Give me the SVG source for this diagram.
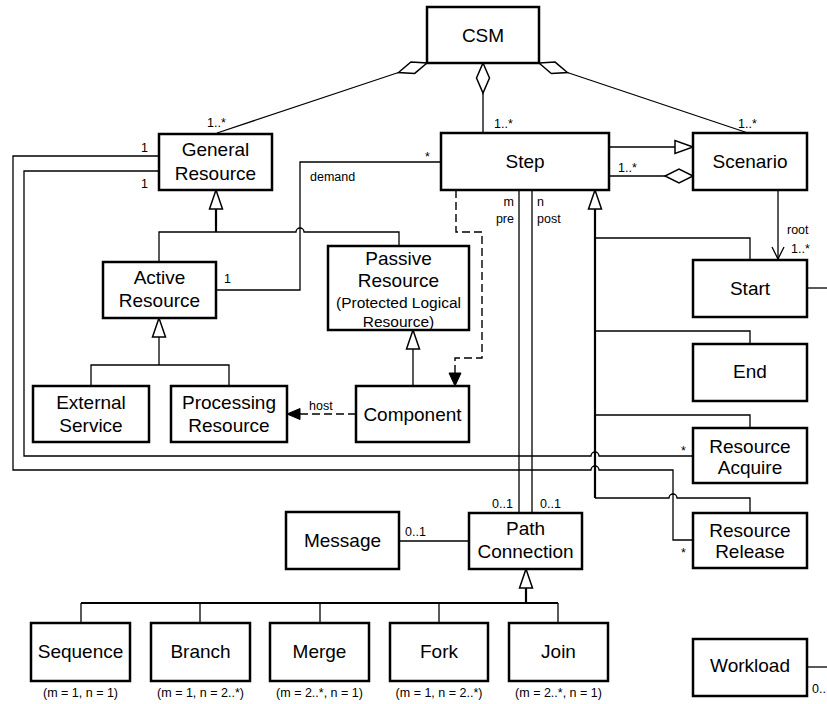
<svg xmlns="http://www.w3.org/2000/svg" width="827" height="704" viewBox="0 0 827 704">
  <style>
    .box { fill: #fff; stroke: #000; stroke-width: 2.5; }
    .ln { fill: none; stroke: #000; stroke-width: 1.3; }
    .thk { fill: none; stroke: #000; stroke-width: 2.2; }
    .dash { fill: none; stroke: #000; stroke-width: 1.4; stroke-dasharray: 8 4; }
    .hollow { fill: #fff; stroke: #000; stroke-width: 1.5; }
    .solid { fill: #000; stroke: #000; stroke-width: 1; }
    text { font-family: "Liberation Sans", Arial, sans-serif; fill: #000; }
    .t { font-size: 19px; text-anchor: middle; }
    .p { font-size: 15.5px; text-anchor: middle; }
    .s { font-size: 12.5px; }
    .sm { font-size: 12.5px; text-anchor: middle; }
    .e { text-anchor: end; }
  </style>

  <rect width="827" height="704" fill="#fff"/>

  <!-- connectors -->
  <g id="connectors">
    <!-- CSM aggregations -->
    <line class="ln" x1="398.5" y1="72.5" x2="217" y2="133"/>
    <polygon class="hollow" points="427,63 414.7,73.4 398.5,72.5 410.9,62"/>
    <line class="ln" x1="483" y1="93" x2="483" y2="133"/>
    <polygon class="hollow" points="483,63 489.5,78 483,93 476.5,78"/>
    <line class="ln" x1="567.4" y1="72.5" x2="748" y2="133"/>
    <polygon class="hollow" points="539,63 555.1,62.1 567.4,72.5 551.3,73.5"/>

    <!-- Step - Scenario -->
    <line class="ln" x1="609" y1="147" x2="675" y2="147"/>
    <polygon class="hollow" points="693,147 675,140.5 675,153.5"/>
    <line class="ln" x1="609" y1="176" x2="665" y2="176"/>
    <polygon class="hollow" points="693,176 679,169 665,176 679,183"/>

    <!-- Scenario root -> Start -->
    <line class="ln" x1="778" y1="190" x2="778" y2="259"/>
    <polyline class="ln" points="772,247 778,259 784,247"/>

    <!-- Start / Workload outgoing -->
    <line class="ln" x1="807" y1="288" x2="827" y2="288"/>
    <line class="ln" x1="807" y1="667" x2="827" y2="667"/>

    <!-- Step specialisations -->
    <polygon class="hollow" points="595,190 588.5,209 601.5,209"/>
    <line class="thk" x1="595" y1="209" x2="595" y2="498"/>
    <polyline class="ln" points="595,238 750,238 750,260"/>
    <polyline class="ln" points="595,331 750,331 750,344"/>
    <polyline class="ln" points="595,415 750,415 750,428"/>
    <path class="ln" d="M595,498 L669,498 A4,4 0 0 1 677,498 L750,498 L750,513"/>

    <!-- General Resource specialisations -->
    <polygon class="hollow" points="216,190 209.5,209 222.5,209"/>
    <line class="thk" x1="216" y1="209" x2="216" y2="232"/>
    <path class="ln" d="M159,262 L159,232 L296,232 A4,4 0 0 1 304,232 L399,232 L399,246"/>

    <!-- demand association -->
    <polyline class="ln" points="441,162 300,162 300,290 216,290"/>

    <!-- Active Resource specialisations -->
    <polygon class="hollow" points="159,318 152.5,337 165.5,337"/>
    <line class="ln" x1="159" y1="337" x2="159" y2="365"/>
    <polyline class="ln" points="91,386 91,365 229,365 229,386"/>

    <!-- Passive Resource specialisation -->
    <polygon class="hollow" points="413,330 406.5,349 419.5,349"/>
    <line class="ln" x1="413" y1="349" x2="413" y2="386"/>

    <!-- host dependency -->
    <line class="dash" x1="356" y1="414" x2="300" y2="414"/>
    <polygon class="solid" points="287,414 300,408.5 300,419.5"/>

    <!-- Step to Component dependency -->
    <polyline class="dash" points="456,190 456,232 482,232 482,358 455,358 455,373"/>
    <polygon class="solid" points="455,386 449,373 461,373"/>

    <!-- pre / post -->
    <line class="ln" x1="519" y1="190" x2="519" y2="513"/>
    <line class="ln" x1="532" y1="190" x2="532" y2="513"/>

    <!-- resource loops from General Resource -->
    <path class="ln" d="M159,171 L24,171 L24,456 L591,456 A4,4 0 0 1 599,456 L693,456"/>
    <path class="ln" d="M159,156 L13,156 L13,470 L591,470 A4,4 0 0 1 599,470 L673,470 L673,540 L693,540"/>

    <!-- Message -->
    <line class="ln" x1="399" y1="541" x2="469" y2="541"/>

    <!-- Path Connection specialisations -->
    <polygon class="hollow" points="526,569 519.5,588 532.5,588"/>
    <line class="thk" x1="526" y1="588" x2="526" y2="603"/>
    <line class="thk" x1="81" y1="603" x2="558" y2="603"/>
    <line class="ln" x1="81" y1="603" x2="81" y2="623"/>
    <line class="ln" x1="200" y1="603" x2="200" y2="623"/>
    <line class="ln" x1="320" y1="603" x2="320" y2="623"/>
    <line class="ln" x1="439" y1="603" x2="439" y2="623"/>
    <line class="ln" x1="558" y1="603" x2="558" y2="623"/>
  </g>

  <!-- connector labels -->
  <g id="labels">
    <text class="s" x="207" y="127">1..*</text>
    <text class="s" x="494" y="128">1..*</text>
    <text class="s" x="738" y="128">1..*</text>
    <text class="s" x="618" y="172">1..*</text>
    <text class="s" x="425" y="161">*</text>
    <text class="s" x="310" y="181">demand</text>
    <text class="s" x="141" y="152">1</text>
    <text class="s" x="141" y="188">1</text>
    <text class="s" x="224" y="283">1</text>
    <text class="s" x="309" y="410">host</text>
    <text class="s" x="787" y="234">root</text>
    <text class="s" x="791" y="253">1..*</text>
    <text class="s e" x="514" y="206">m</text>
    <text class="s e" x="514" y="223">pre</text>
    <text class="s" x="537" y="206">n</text>
    <text class="s" x="537" y="223">post</text>
    <text class="s" x="492" y="508">0..1</text>
    <text class="s" x="540" y="508">0..1</text>
    <text class="s" x="405" y="536">0..1</text>
    <text class="s" x="681" y="455">*</text>
    <text class="s" x="681" y="557">*</text>
    <text class="s" x="812" y="693">0..</text>
  </g>

  <!-- nodes -->
  <g id="csm"><rect class="box" x="427" y="7" width="112" height="56"/><text class="t" x="483" y="42">CSM</text></g>
  <g id="step"><rect class="box" x="441" y="133" width="168" height="57"/><text class="t" x="525" y="168">Step</text></g>
  <g id="scenario"><rect class="box" x="693" y="133" width="114" height="57"/><text class="t" x="750" y="168">Scenario</text></g>
  <g id="general-resource"><rect class="box" x="159" y="134" width="113" height="56"/><text class="t" x="215.5" y="156">General</text><text class="t" x="215.5" y="180">Resource</text></g>
  <g id="active-resource"><rect class="box" x="103" y="262" width="113" height="56"/><text class="t" x="159.5" y="284">Active</text><text class="t" x="159.5" y="307">Resource</text></g>
  <g id="passive-resource"><rect class="box" x="328" y="246" width="141" height="84"/><text class="t" x="398.5" y="265">Passive</text><text class="t" x="398.5" y="287">Resource</text><text class="p" x="398.5" y="308">(Protected Logical</text><text class="p" x="398.5" y="327">Resource)</text></g>
  <g id="external-service"><rect class="box" x="33" y="386" width="116" height="56"/><text class="t" x="91" y="409">External</text><text class="t" x="91" y="432">Service</text></g>
  <g id="processing-resource"><rect class="box" x="171" y="386" width="116" height="56"/><text class="t" x="229" y="409">Processing</text><text class="t" x="229" y="432">Resource</text></g>
  <g id="component"><rect class="box" x="356" y="386" width="113" height="56"/><text class="t" x="412.5" y="421">Component</text></g>
  <g id="start"><rect class="box" x="693" y="260" width="114" height="57"/><text class="t" x="750" y="295">Start</text></g>
  <g id="end"><rect class="box" x="693" y="344" width="114" height="57"/><text class="t" x="750" y="378">End</text></g>
  <g id="resource-acquire"><rect class="box" x="693" y="428" width="114" height="55"/><text class="t" x="750" y="453">Resource</text><text class="t" x="750" y="474">Acquire</text></g>
  <g id="resource-release"><rect class="box" x="693" y="513" width="114" height="55"/><text class="t" x="750" y="537">Resource</text><text class="t" x="750" y="558">Release</text></g>
  <g id="path-connection"><rect class="box" x="469" y="513" width="113" height="56"/><text class="t" x="525.5" y="535">Path</text><text class="t" x="525.5" y="558">Connection</text></g>
  <g id="message"><rect class="box" x="286" y="512" width="113" height="57"/><text class="t" x="342.5" y="547">Message</text></g>
  <g id="sequence"><rect class="box" x="31" y="623" width="99" height="58"/><text class="t" x="80.5" y="658">Sequence</text><text class="sm" x="80.5" y="697">(m = 1, n = 1)</text></g>
  <g id="branch"><rect class="box" x="151" y="623" width="99" height="58"/><text class="t" x="200.5" y="658">Branch</text><text class="sm" x="200.5" y="697">(m = 1, n = 2..*)</text></g>
  <g id="merge"><rect class="box" x="270" y="623" width="99" height="58"/><text class="t" x="319.5" y="658">Merge</text><text class="sm" x="319.5" y="697">(m = 2..*, n = 1)</text></g>
  <g id="fork"><rect class="box" x="390" y="623" width="98" height="58"/><text class="t" x="439" y="658">Fork</text><text class="sm" x="439" y="697">(m = 1, n = 2..*)</text></g>
  <g id="join"><rect class="box" x="509" y="623" width="99" height="58"/><text class="t" x="558.5" y="658">Join</text><text class="sm" x="558.5" y="697">(m = 2..*, n = 1)</text></g>
  <g id="workload"><rect class="box" x="693" y="639" width="114" height="57"/><text class="t" x="750" y="672">Workload</text></g>
</svg>
